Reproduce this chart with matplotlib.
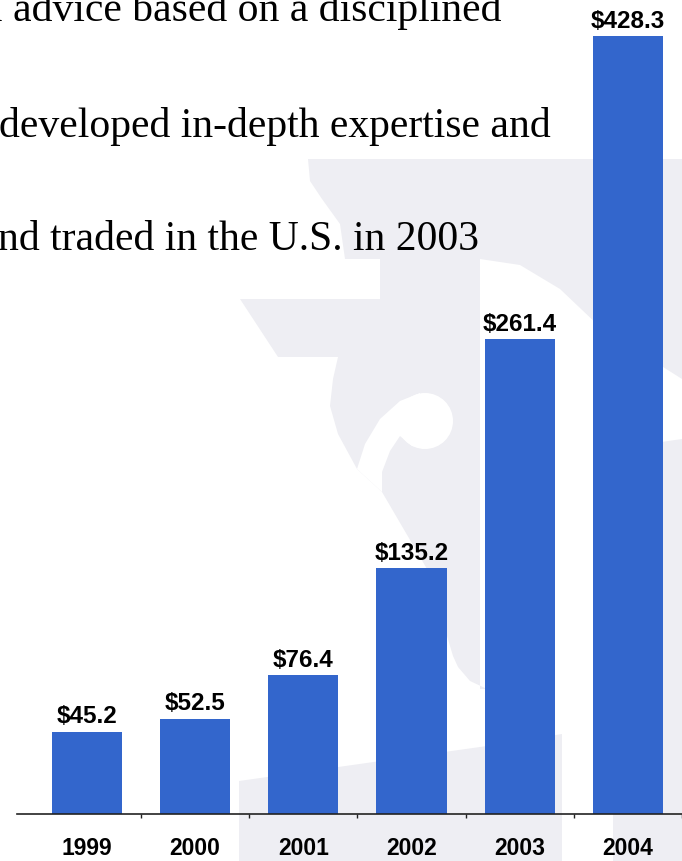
import matplotlib
matplotlib.use("Agg")
import matplotlib.pyplot as plt
from matplotlib.patches import Polygon, Circle

years = ["1999", "2000", "2001", "2002", "2003", "2004"]
values = [45.2, 52.5, 76.4, 135.2, 261.4, 428.3]
value_labels = ["$45.2", "$52.5", "$76.4", "$135.2", "$261.4", "$428.3"]
body_lines = ["l advice based on a disciplined",
              "developed in-depth expertise and",
              "nd traded in the U.S. in 2003"]

BAR = "#3366CC"
WASH = "#EEEEF3"
narrow = ["Liberation Sans Narrow", "Liberation Sans", "DejaVu Sans"]

fig = plt.figure(figsize=(6.82, 8.62), dpi=100)

# background layer in pixel coords (y down) for the faded column watermark
bg = fig.add_axes([0, 0, 1, 1], zorder=0)
bg.set_xlim(0, 682)
bg.set_ylim(862, 0)
bg.axis("off")

capital = [(308, 160), (682, 160), (682, 380), (600, 328), (560, 290), (520, 266),
           (480, 260), (480, 690), (487, 690), (470, 682), (458, 668), (453, 657),
           (427, 570), (382, 493), (357, 470), (338, 435), (330, 407), (333, 380),
           (338, 358), (278, 358), (240, 300), (380, 300), (380, 260), (345, 260),
           (340, 225), (322, 200), (310, 182)]
bg.add_patch(Polygon(capital, closed=True, fc=WASH, ec="none"))
bg.add_patch(Polygon([(613, 450), (682, 440), (682, 862), (613, 862)], fc=WASH, ec="none"))
bg.add_patch(Polygon([(239, 782), (487, 747), (562, 735), (562, 862), (239, 862)],
                     fc=WASH, ec="none"))
# volute scroll cut out in white
bg.add_patch(Polygon([(357, 470), (365, 445), (380, 420), (400, 402), (420, 394),
                      (425, 450), (412, 447), (400, 437), (390, 452), (382, 473),
                      (382, 493)], fc="white", ec="none"))
bg.add_patch(Circle((425, 422), 28, fc="white", ec="none"))

for txt, x, y in zip(body_lines, [-9, -1, -2], [21, 137, 250]):
    bg.text(x, y, txt, family="Liberation Serif", fontsize=30, color="black",
            ha="left", va="baseline")

# the bar chart itself
ax = fig.add_axes([17 / 682, 47 / 862, 665 / 682, 815 / 862], zorder=1)
ax.patch.set_alpha(0)
xs = range(len(years))
ax.bar(xs, values, width=0.65, color=BAR, zorder=2)
ax.set_xlim(-0.645, 5.475)
ax.set_ylim(0, 448.8)

for i, (v, lab) in enumerate(zip(values, value_labels)):
    ax.annotate(lab, (i, v), xytext=(0, 7), textcoords="offset points",
                ha="center", va="baseline", fontsize=17.5, fontweight="bold",
                family=narrow, color="black")

for s in ["top", "left", "right"]:
    ax.spines[s].set_visible(False)
ax.spines["bottom"].set_color("#222222")
ax.spines["bottom"].set_linewidth(1.2)
ax.set_yticks([])
ax.set_xticks(list(xs))
ax.set_xticklabels(years, fontsize=16.5, fontweight="bold", family=narrow)
ax.set_xticks([i + 0.5 for i in xs], minor=True)
ax.tick_params(axis="x", which="major", length=0, pad=16)
ax.tick_params(axis="x", which="minor", length=3, width=1, color="#222222", direction="out")

fig.savefig("out.png", dpi=100)
